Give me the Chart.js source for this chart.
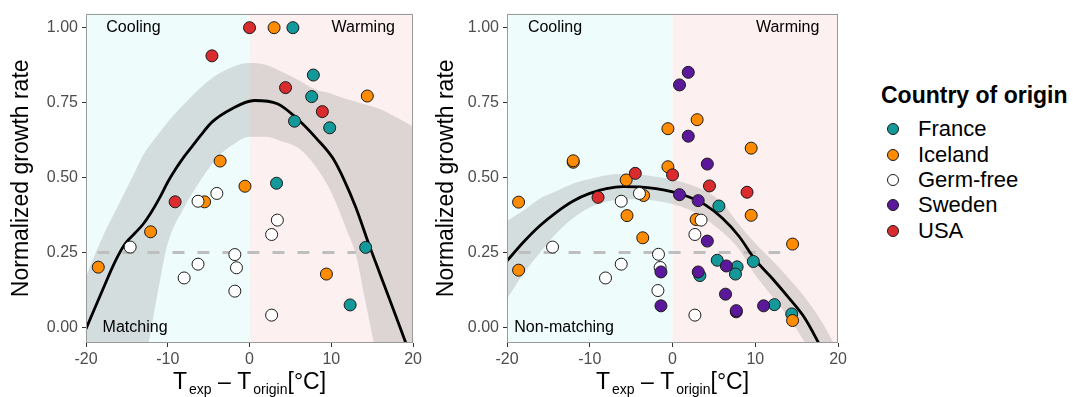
<!DOCTYPE html>
<html>
<head>
<meta charset="utf-8">
<script src="https://cdn.jsdelivr.net/npm/chart.js@4.4.1/dist/chart.umd.min.js"></script>
<style>
  body { margin: 0; background: #fff; width: 1073px; height: 397px; overflow: hidden; position: relative;
         font-family: "Liberation Sans", Arial, Helvetica, sans-serif; }
  canvas { position: absolute; top: 0; }
  #c1 { left: 0; }
  #c2 { left: 425px; }
  .lg { position: absolute; white-space: nowrap; color: #000; }
  .lg-title { font-size: 23px; font-weight: bold; line-height: 28px; }
  .lg-item { font-size: 22px; line-height: 26px; }
  .dot { position: absolute; width: 10px; height: 10px; border: 1px solid #1a1a1a; border-radius: 50%; }
</style>
</head>
<body>
<canvas id="c1" width="425" height="397"></canvas>
<canvas id="c2" width="425" height="397"></canvas>
<div id="legend"></div>
<script>
const countries = ["France", "Iceland", "Germ-free", "Sweden", "USA"];
const countryColors = ["#13999a", "#ff8c00", "#ffffff", "#5b189b", "#da2b2e"];

const xTicks = [-20, -10, 0, 10, 20];
const yTicks = [0, 0.25, 0.5, 0.75, 1];

// Matching panel: [T_exp - T_origin, normalized growth rate]
const matchFrance = [[5.3, 1.0], [7.8, 0.842], [7.6, 0.77], [5.5, 0.688], [9.8, 0.666], [3.3, 0.481], [14.2, 0.267], [12.3, 0.075]];
const matchIceland = [[3.0, 1.0], [14.4, 0.772], [-3.6, 0.555], [-0.56, 0.471], [-5.5, 0.419], [-12.1, 0.319], [-18.5, 0.201], [9.4, 0.178]];
const matchGermFree = [[-6.3, 0.421], [-4.0, 0.447], [-14.6, 0.268], [3.4, 0.358], [2.7, 0.31], [-1.8, 0.243], [-6.3, 0.211], [-1.6, 0.199], [-8.0, 0.165], [-1.8, 0.121], [2.7, 0.041]];
const matchUSA = [[0.0, 1.0], [-4.6, 0.906], [4.4, 0.80], [8.9, 0.72], [-9.1, 0.419]];

// Non-matching panel
const nonFrance = [[5.6, 0.405], [9.76, 0.22], [5.4, 0.224], [7.8, 0.202], [3.3, 0.173], [7.6, 0.178], [12.3, 0.076], [14.4, 0.045]];
const nonIceland = [[2.97, 0.693], [-0.56, 0.663], [9.5, 0.598], [-12.0, 0.551], [-12.0, 0.556], [-0.56, 0.536], [-5.6, 0.492], [-18.6, 0.418], [-3.5, 0.44], [9.5, 0.374], [-5.5, 0.373], [2.85, 0.36], [-3.6, 0.299], [14.5, 0.278], [-18.6, 0.191], [14.5, 0.023]];
const nonGermFree = [[-6.2, 0.421], [-4.0, 0.447], [3.45, 0.358], [2.7, 0.31], [-14.5, 0.268], [-1.7, 0.244], [-1.5, 0.2], [-6.2, 0.211], [-8.1, 0.165], [-1.77, 0.123], [2.7, 0.041]];
const nonSweden = [[1.9, 0.851], [0.84, 0.809], [1.9, 0.638], [4.2, 0.545], [0.84, 0.443], [3.1, 0.423], [4.2, 0.288], [6.5, 0.205], [-1.4, 0.185], [3.1, 0.185], [6.4, 0.111], [-1.4, 0.072], [11.0, 0.072], [7.7, 0.052], [7.7, 0.056]];
const nonUSA = [[-4.5, 0.514], [0.0, 0.509], [4.46, 0.472], [9.0, 0.451], [-9.0, 0.434]];

// fitted curves and confidence bands
const matchFitX = [-20, -18, -16.4, -15.2, -14, -13, -12, -11, -10, -9, -8, -7, -6, -4.6, -2.2, 0.6, 3.4, 5.8, 8.2, 10.2, 11.6, 13, 14.6, 16, 18, 19.5];
const matchFitY = [-0.005, 0.123, 0.222, 0.28, 0.315, 0.345, 0.385, 0.432, 0.485, 0.53, 0.57, 0.605, 0.64, 0.685, 0.729, 0.757, 0.746, 0.697, 0.63, 0.564, 0.49, 0.40, 0.277, 0.175, 0.03, -0.08];
const matchBandX = [-20, -18, -16, -14, -13, -12, -11, -10, -8, -6, -4, -2, 0, 2, 4, 6, 8, 10, 12, 13, 14, 15, 16, 18, 20];
const matchUpper = [0.17, 0.30, 0.41, 0.52, 0.575, 0.615, 0.65, 0.685, 0.745, 0.80, 0.843, 0.87, 0.882, 0.876, 0.852, 0.825, 0.795, 0.78, 0.76, 0.753, 0.745, 0.737, 0.728, 0.70, 0.67];
const matchLower = [-1.2, -0.9, -0.6, -0.3, -0.15, 0.0, 0.15, 0.28, 0.40, 0.49, 0.565, 0.61, 0.636, 0.636, 0.62, 0.598, 0.54, 0.45, 0.317, 0.244, 0.11, -0.025, -0.16, -0.45, -0.75];

const nonFitX = [-20, -18, -16, -14, -12, -10, -8, -6, -4, -2, 0, 2, 4, 6, 8, 10, 12, 14, 16, 18];
const nonFitY = [0.222, 0.285, 0.34, 0.385, 0.422, 0.447, 0.463, 0.47, 0.469, 0.463, 0.452, 0.435, 0.408, 0.365, 0.305, 0.225, 0.165, 0.10, 0.03, -0.07];
const nonBandX = [-20, -18, -16, -14, -12, -10, -8, -6, -4, -2, 0, 2, 4, 6, 8, 10, 12, 14, 16, 18, 20];
const nonUpper = [0.355, 0.39, 0.43, 0.455, 0.48, 0.495, 0.508, 0.512, 0.51, 0.503, 0.493, 0.478, 0.455, 0.415, 0.345, 0.28, 0.225, 0.165, 0.10, 0.02, -0.08];
const nonLower = [0.095, 0.18, 0.25, 0.315, 0.365, 0.40, 0.42, 0.428, 0.428, 0.423, 0.412, 0.393, 0.362, 0.318, 0.262, 0.175, 0.105, 0.035, -0.05, -0.14, -0.24];

const refLineX = [-18.6, 13.0];
const refLineY = 0.25;

const FONT = '"Liberation Sans", Arial, Helvetica, sans-serif';
Chart.defaults.font.family = FONT;

function pairs(p) { return p.map(d => ({ x: d[0], y: d[1] })); }
function toXY(xs, ys) { return xs.map((x, i) => ({ x: x, y: ys[i] })); }

const shade = {
  id: "shade",
  beforeDatasetsDraw(chart) {
    const { ctx, chartArea: a, scales: { x } } = chart;
    const x0 = x.getPixelForValue(0);
    ctx.save();
    ctx.fillStyle = "#effcfc";
    ctx.fillRect(a.left, a.top, x0 - a.left, a.bottom - a.top);
    ctx.fillStyle = "#fdf0f0";
    ctx.fillRect(x0, a.top, a.right - x0, a.bottom - a.top);
    ctx.restore();
  }
};

const decor = {
  id: "decor",
  afterDatasetsDraw(chart, args, opts) {
    const { ctx, scales: { x, y } } = chart;
    ctx.save();
    ctx.font = "16px " + FONT;
    ctx.fillStyle = "#000";
    ctx.textBaseline = "middle";
    ctx.textAlign = "center";
    ctx.fillText("Cooling", x.getPixelForValue(-14.2), y.getPixelForValue(1.0));
    ctx.fillText("Warming", x.getPixelForValue(13.9), y.getPixelForValue(1.0));
    ctx.fillText(opts.corner, x.getPixelForValue(opts.cornerX), y.getPixelForValue(0.0));
    ctx.restore();
  },
  afterDraw(chart) {
    const { ctx, chartArea: a } = chart;
    ctx.save();
    ctx.strokeStyle = "#9a9a9a";
    ctx.lineWidth = 1;
    ctx.strokeRect(Math.round(a.left) + 0.5, Math.round(a.top) + 0.5,
                   Math.round(a.right - a.left) - 1, Math.round(a.bottom - a.top) - 1);
    // x axis title with subscripts
    const parts = [["T", 23, 0, 2], ["exp", 14, 5, 0], [" \u2013 T", 23, 0, 2], ["origin", 14, 5, 0], ["[\u00b0C]", 23, 0, 0]];
    let total = 0;
    parts.forEach(p => { ctx.font = p[1] + "px " + FONT; p.w = ctx.measureText(p[0]).width + p[3]; total += p.w; });
    let cx = (a.left + a.right) / 2 - total / 2;
    ctx.fillStyle = "#000";
    ctx.textAlign = "left";
    ctx.textBaseline = "alphabetic";
    parts.forEach(p => {
      ctx.font = p[1] + "px " + FONT;
      ctx.fillText(p[0], cx, 389 + p[2]);
      cx += p.w;
    });
    ctx.restore();
  }
};

function pointSet(data, idx) {
  return {
    type: "line", data: pairs(data), showLine: false, order: 4 - idx,
    pointRadius: 6, pointHoverRadius: 6, pointBorderWidth: 1,
    pointBorderColor: "#1a1a1a", pointBackgroundColor: countryColors[idx]
  };
}

function makePanel(id, groups, fitX, fitY, bandX, up, lo, corner, cornerX, yWidth, padRight) {
  const datasets = [];
  groups.forEach(g => { if (g.data) datasets.push(pointSet(g.data, g.idx)); });
  datasets.push({ data: toXY(fitX, fitY), borderColor: "#000", borderWidth: 2.8, pointRadius: 0,
                  cubicInterpolationMode: "monotone", order: 6, fill: false });
  datasets.push({ data: refLineX.map(x => ({ x: x, y: refLineY })), borderColor: "#bebebe", borderWidth: 3,
                  borderDash: [12, 13], pointRadius: 0, order: 7, fill: false });
  datasets.push({ data: toXY(bandX, up), borderWidth: 0, borderColor: "rgba(0,0,0,0)", pointRadius: 0,
                  cubicInterpolationMode: "monotone", backgroundColor: "rgba(150,150,150,0.3)", fill: "+1", order: 8 });
  datasets.push({ data: toXY(bandX, lo), borderWidth: 0, borderColor: "rgba(0,0,0,0)", pointRadius: 0,
                  cubicInterpolationMode: "monotone", fill: false, order: 8 });

  const tickGrid = { display: true, drawOnChartArea: false, drawTicks: true, tickLength: 4, color: "#333", lineWidth: 1 };
  new Chart(document.getElementById(id), {
    type: "line",
    data: { datasets: datasets },
    options: {
      responsive: false, animation: false, events: [],
      layout: { padding: { top: 9, right: padRight, left: 0, bottom: 0 } },
      plugins: { legend: { display: false }, tooltip: { enabled: false }, decor: { corner: corner, cornerX: cornerX } },
      scales: {
        x: {
          type: "linear", min: -20, max: 20,
          afterBuildTicks: s => { s.ticks = xTicks.map(v => ({ value: v })); },
          afterFit: s => { s.height = 54; },
          grid: tickGrid, border: { display: false },
          ticks: { color: "#4d4d4d", font: { size: 16 }, padding: 3, maxRotation: 0, autoSkip: false, callback: v => String(v) }
        },
        y: {
          type: "linear", min: -0.052, max: 1.047,
          afterBuildTicks: s => { s.ticks = yTicks.map(v => ({ value: v })); },
          afterFit: s => { s.width = yWidth; },
          grid: tickGrid, border: { display: false },
          ticks: { color: "#4d4d4d", font: { size: 16 }, padding: 4, callback: v => v.toFixed(2) },
          title: { display: true, text: "Normalized growth rate", color: "#000", font: { size: 23 }, padding: { top: 8, bottom: 4 } }
        }
      }
    },
    plugins: [shade, decor]
  });
}

makePanel("c1",
  [{ data: matchFrance, idx: 0 }, { data: matchIceland, idx: 1 }, { data: matchGermFree, idx: 2 }, { data: null, idx: 3 }, { data: matchUSA, idx: 4 }],
  matchFitX, matchFitY, matchBandX, matchUpper, matchLower, "Matching", -14.0, 86, 7);
makePanel("c2",
  [{ data: nonFrance, idx: 0 }, { data: nonIceland, idx: 1 }, { data: nonGermFree, idx: 2 }, { data: nonSweden, idx: 3 }, { data: nonUSA, idx: 4 }],
  nonFitX, nonFitY, nonBandX, nonUpper, nonLower, "Non-matching", -13.1, 82, 10);

// legend
const legend = document.getElementById("legend");
const title = document.createElement("div");
title.className = "lg lg-title";
title.style.left = "881px"; title.style.top = "81px";
title.textContent = "Country of origin";
legend.appendChild(title);
const rowCenters = [129, 155, 180, 205, 231];
countries.forEach((name, i) => {
  const dot = document.createElement("div");
  dot.className = "dot";
  dot.style.background = countryColors[i];
  dot.style.left = "887px"; dot.style.top = (rowCenters[i] - 6) + "px";
  legend.appendChild(dot);
  const t = document.createElement("div");
  t.className = "lg lg-item";
  t.style.left = "918px"; t.style.top = (rowCenters[i] - 13) + "px";
  t.textContent = name;
  legend.appendChild(t);
});
</script>
</body>
</html>
